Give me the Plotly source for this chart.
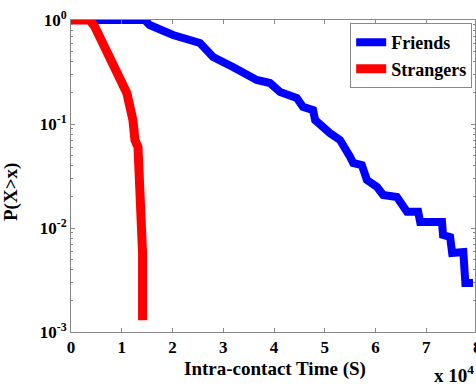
import plotly.graph_objects as go

# Friends CCDF (x in units of 10^4 s)
friends_x = [0, 1.45, 1.55, 2.01, 2.54, 2.80, 3.19, 3.66, 3.92, 4.12, 4.45, 4.57, 4.77, 4.81,
             5.10, 5.30, 5.50, 5.56, 5.73, 5.83, 6.03, 6.15, 6.42, 6.52, 6.62, 6.84, 6.88,
             7.31, 7.33, 7.47, 7.51, 7.73, 7.77, 7.92]
friends_y = [1, 1, 0.895, 0.718, 0.601, 0.441, 0.353, 0.265, 0.248, 0.203, 0.178, 0.146, 0.136, 0.109,
             0.0819, 0.0702, 0.0482, 0.0422, 0.0403, 0.029, 0.0248, 0.0208, 0.0199, 0.0166, 0.0143, 0.0143, 0.0114,
             0.0114, 0.00857, 0.00819, 0.00575, 0.00587, 0.00296, 0.00296]

# Strangers CCDF
strangers_x = [0, 0.37, 0.47, 0.57, 0.76, 0.96, 1.10, 1.22, 1.26, 1.32, 1.36, 1.39, 1.41, 1.41]
strangers_y = [1, 1, 0.86, 0.687, 0.412, 0.283, 0.199, 0.109, 0.0702, 0.0601, 0.0248, 0.0128, 0.00575, 0.0013]

x_ticks = [0, 1, 2, 3, 4, 5, 6, 7]
x_last_tick = 8
y_tickvals = [1, 0.1, 0.01, 0.001]
y_ticktext = ["10<sup>0</sup>", "10<sup>-1</sup>", "10<sup>-2</sup>", "10<sup>-3</sup>"]

FONT = "Liberation Serif"
X_MAX = 7.96

fig = go.Figure()
fig.add_trace(go.Scatter(x=friends_x, y=friends_y, mode="lines", name="<b>Friends</b>",
                         line=dict(color="#0000ff", width=8)))
fig.add_trace(go.Scatter(x=strangers_x, y=strangers_y, mode="lines", name="<b>Strangers</b>",
                         line=dict(color="#ff0000", width=9)))

axis_common = dict(showline=True, linecolor="#888888", linewidth=1, mirror="ticks",
                   ticks="inside", ticklen=4, tickcolor="#888888", showgrid=False, zeroline=False,
                   tickfont=dict(family=FONT, size=17, color="black"))

fig.update_layout(
    width=476, height=392,
    margin=dict(l=71, r=1, t=20, b=60),
    paper_bgcolor="white", plot_bgcolor="white",
    font=dict(family=FONT, color="black"),
    showlegend=True,
    legend=dict(x=0.993, y=0.99, xanchor="right", yanchor="top",
                bordercolor="#888888", borderwidth=1, bgcolor="white",
                font=dict(family=FONT, size=18, color="black"),
                tracegroupgap=0, itemwidth=30),
    xaxis=dict(range=[0, X_MAX], tickvals=x_ticks, ticktext=[f"<b>{v}</b>" for v in x_ticks],
               **axis_common),
    yaxis=dict(type="log", range=[-3, 0], tickvals=y_tickvals,
               ticktext=[f"<b>{t}</b>" for t in y_ticktext],
               minor=dict(ticks="inside", ticklen=2, tickcolor="#888888", dtick="D1"),
               **axis_common),
)

# last x tick label, partly beyond the right edge as in the original
fig.add_annotation(text=f"<b>{x_last_tick}</b>", xref="paper", yref="paper",
                   x=x_last_tick / X_MAX, y=-0.051, xanchor="center", yanchor="middle",
                   showarrow=False, font=dict(family=FONT, size=17, color="black"))
fig.add_annotation(text="<b>Intra-contact Time (S)</b>", xref="paper", yref="paper",
                   x=0.505, y=-0.118, xanchor="center", yanchor="middle", showarrow=False,
                   font=dict(family=FONT, size=19, color="black"))
fig.add_annotation(text="<b>P(X>x)</b>", xref="paper", yref="paper",
                   x=-0.15, y=0.45, xanchor="center", yanchor="middle", showarrow=False,
                   textangle=-90, font=dict(family=FONT, size=19, color="black"))
fig.add_annotation(text="<b>x 10<sup>4</sup></b>", xref="paper", yref="paper",
                   x=0.893, y=-0.09, xanchor="left", yanchor="top", showarrow=False,
                   font=dict(family=FONT, size=19, color="black"))

fig.write_html("out.html")
